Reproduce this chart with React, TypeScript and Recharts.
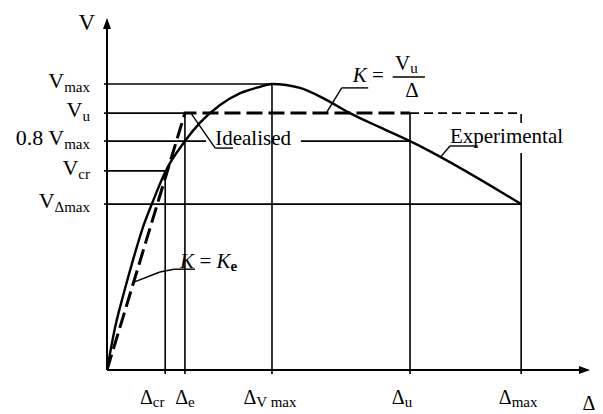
import React from 'react';
import { ComposedChart, Line, XAxis, YAxis, ReferenceLine, ReferenceDot } from 'recharts';

// Key displacements (Δ) and loads (V); both axes run 0..100
const deltaNames = ['cr', 'e', 'V max', 'u', 'max'];
const deltaValues = [12.1, 16.2, 34.3, 63.0, 86.1];
const vPrefixes = ['', '', '0.8 ', '', ''];
const vNames = ['max', 'u', 'max', 'cr', 'Δmax'];
const vValues = [81.7, 73.4, 65.4, 56.9, 47.4];

// experimental envelope
const expDelta = [0, 1.7, 3.5, 5.4, 7.5, 9.4, 12.1, 16.2, 19.3, 23.5, 27.7, 31.8, 34.3, 40.1, 45.3, 50.5, 56.8, 63.0, 86.1];
const expV = [0, 12.3, 22, 31.4, 40.9, 47.7, 56.6, 65.4, 70.6, 75.7, 79.1, 80.9, 81.7, 80.6, 77.4, 73.4, 69.3, 65.4, 47.4];

const [dCr, dE, dVmax, dU, dMax] = deltaValues;
const [vMax, vU, v08, vCr, vDmax] = vValues;

// idealised bilinear curve (heavy part, then light part with the drop at Δmax)
const idealDelta = [0, dE, dU];
const idealV = [0, vU, vU];
const tailDelta = [dU, dMax, dMax];
const tailV = [vU, vU, 70];

const expData = expDelta.map((d, i) => ({ d, v: expV[i] }));
const idealData = idealDelta.map((d, i) => ({ d, v: idealV[i] }));
const tailData = tailDelta.map((d, i) => ({ d, v: tailV[i] }));

const FONT = '"Liberation Serif", "Times New Roman", serif';
const INK = '#000';

// tick labels are nudged a little where they crowd
const deltaShift = [-13, 0, -2, -8, -3];

const DeltaTick = (props: any) => {
  const i = deltaValues.indexOf(props.payload.value);
  if (i < 0) return null;
  return (
    <text x={props.x + deltaShift[i]} y={props.y + 28} textAnchor="middle" fontFamily={FONT} fontSize={20} fill={INK}>
      Δ<tspan fontSize={15} dy={3}>{deltaNames[i]}</tspan>
    </text>
  );
};

const VTick = (props: any) => {
  const i = vValues.indexOf(props.payload.value);
  if (i < 0) return null;
  return (
    <text x={props.x - 12} y={props.y + 4} textAnchor="end" fontFamily={FONT} fontSize={22} fill={INK}>
      {vPrefixes[i]}V<tspan fontSize={15} dy={4}>{vNames[i]}</tspan>
    </text>
  );
};

const note = (content: React.ReactNode, anchor = 'start') => (p: any) => (
  <text x={p.cx} y={p.cy} textAnchor={anchor} fontFamily={FONT} fontSize={21} fill={INK}>
    {content}
  </text>
);

const seg = (x1: number, y1: number, x2: number, y2: number, w = 1.6) => (
  <ReferenceLine
    segment={[{ x: x1, y: y1 }, { x: x2, y: y2 }]}
    stroke={INK}
    strokeWidth={w}
    ifOverflow="visible"
  />
);

export default function App() {
  return (
    <div style={{ width: 595, height: 406, background: '#fff' }}>
      <ComposedChart width={595} height={406} margin={{ top: 12, right: 15, left: 0, bottom: 0 }}>
        <XAxis
          type="number"
          dataKey="d"
          domain={[0, 100]}
          ticks={deltaValues}
          interval={0}
          tick={(p: any) => <DeltaTick {...p} />}
          tickSize={4}
          height={44}
          axisLine={{ stroke: '#000', strokeWidth: 2 }}
          tickLine={{ stroke: '#000', strokeWidth: 1.6 }}
          allowDataOverflow
        />
        <YAxis
          type="number"
          domain={[0, 100]}
          ticks={vValues}
          interval={0}
          tick={(p: any) => <VTick {...p} />}
          tickSize={3}
          width={99}
          axisLine={{ stroke: '#000', strokeWidth: 2 }}
          tickLine={{ stroke: '#000', strokeWidth: 1.6 }}
          allowDataOverflow
        />

        {/* guide lines from the axes to the key points */}
        {seg(0, vMax, dVmax, vMax)}
        {seg(0, vU, dE, vU)}
        {seg(0, v08, 20.6, v08)}
        {seg(40.3, v08, dU, v08)}
        {seg(0, vCr, dCr, vCr)}
        {seg(0, vDmax, dMax, vDmax)}
        {seg(dCr, 0, dCr, vCr)}
        {seg(dE, 0, dE, vU)}
        {seg(dVmax, 0, dVmax, vMax)}
        {seg(dU, 0, dU, vU)}
        {seg(dMax, 0, dMax, 62)}

        <Line data={idealData} dataKey="v" type="linear" stroke={INK} strokeWidth={3} strokeDasharray="16 6" dot={false} isAnimationActive={false} />
        <Line data={tailData} dataKey="v" type="linear" stroke={INK} strokeWidth={1.6} strokeDasharray="9 5" dot={false} isAnimationActive={false} />
        <Line data={expData} dataKey="v" type="monotone" stroke={INK} strokeWidth={2.4} dot={false} isAnimationActive={false} />

        {/* arrow heads and axis names */}
        <ReferenceDot x={0} y={100} r={1} ifOverflow="visible" shape={(p: any) => <path d={`M${p.cx},${p.cy - 2} l-4,11 l8,0 z`} fill="#000" />} />
        <ReferenceDot x={100} y={0} r={1} ifOverflow="visible" shape={(p: any) => <path d={`M${p.cx + 2},${p.cy} l-11,-4 l0,8 z`} fill="#000" />} />
        <ReferenceDot x={0} y={100} r={1} ifOverflow="visible" shape={(p: any) => (
          <text x={p.cx - 12} y={p.cy + 10} textAnchor="end" fontFamily={FONT} fontSize={23} fill={INK}>V</text>
        )} />
        <ReferenceDot x={100} y={0} r={1} ifOverflow="visible" shape={(p: any) => (
          <text x={p.cx + 1} y={p.cy + 40} textAnchor="middle" fontFamily={FONT} fontSize={20} fill={INK}>Δ</text>
        )} />

        {/* K = Vu / Δ */}
        <ReferenceDot x={51.1} y={82.3} r={1} ifOverflow="visible" shape={note(<><tspan fontStyle="italic">K</tspan> =</>)} />
        <ReferenceDot x={59.9} y={85.7} r={1} ifOverflow="visible" shape={note(<>V<tspan fontSize={15} dy={3}>u</tspan></>)} />
        {seg(59.4, 83.7, 66.1, 83.7, 1.4)}
        <ReferenceDot x={63.4} y={78} r={1} ifOverflow="visible" shape={note('Δ', 'middle')} />
        {seg(54.3, 80.6, 48.8, 80.6, 1.4)}
        {seg(48.8, 80.6, 45.7, 73.7, 1.4)}

        {/* Idealised */}
        <ReferenceDot x={22.5} y={64.3} r={1} ifOverflow="visible" shape={note('Idealised')} />
        {seg(26.2, 63.4, 22.5, 63.4, 1.4)}
        {seg(22.5, 63.4, 17.3, 73.7, 1.4)}

        {/* Experimental */}
        <ReferenceDot x={71.3} y={64.9} r={1} ifOverflow="visible" shape={note('Experimental')} />
        {seg(77.1, 64, 71.3, 64, 1.4)}
        {seg(71.3, 64, 69.2, 60.6, 1.4)}

        {/* K = Ke */}
        <ReferenceDot x={15.2} y={29.1} r={1} ifOverflow="visible" shape={note(<><tspan fontStyle="italic">K</tspan> = <tspan fontStyle="italic">K</tspan><tspan fontSize={15} dy={3} fontWeight="bold">e</tspan></>)} />
        {seg(18.3, 28.8, 13.9, 28.8, 1.4)}
        {seg(13.9, 28.8, 11.0, 28.0, 1.4)}
        {seg(11.0, 28.0, 5.6, 25.1, 1.4)}
      </ComposedChart>
    </div>
  );
}
